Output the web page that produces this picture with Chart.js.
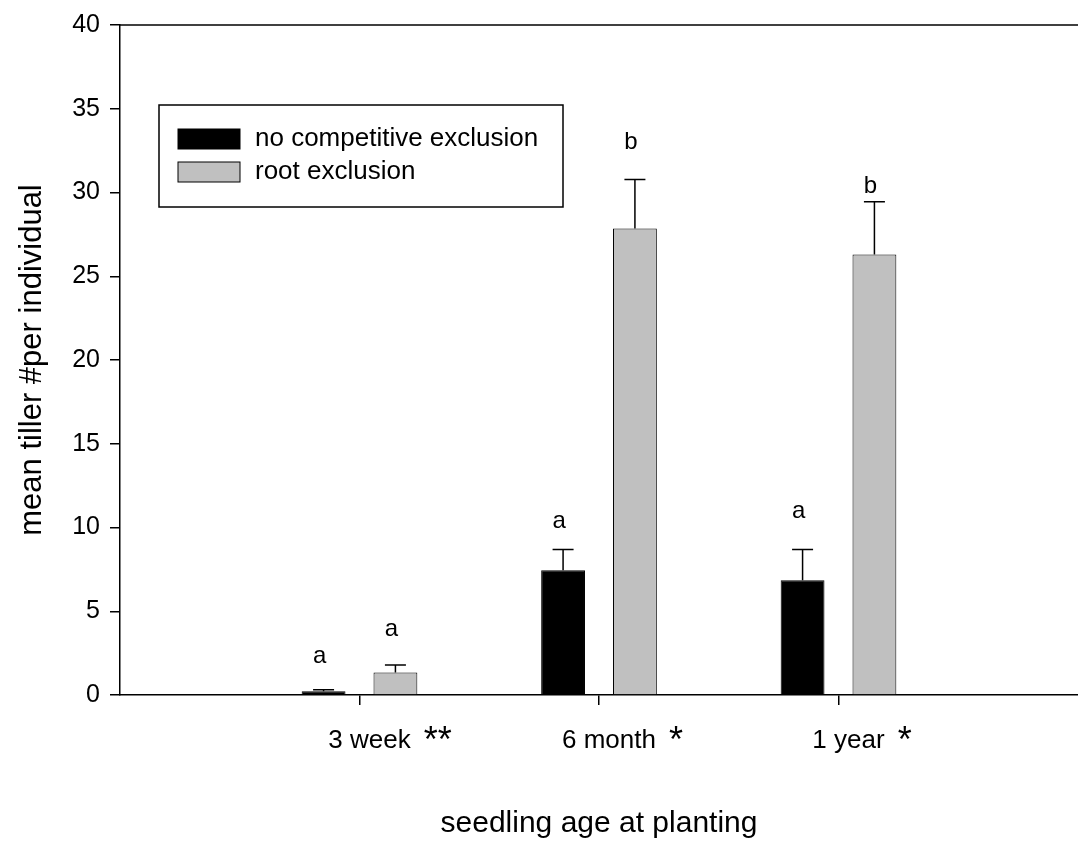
<!DOCTYPE html>
<html>
<head>
<meta charset="utf-8">
<script src="https://cdn.jsdelivr.net/npm/chart.js@4.4.0/dist/chart.umd.min.js"></script>
<style>
  html, body { margin: 0; padding: 0; background: #fff; }
</style>
</head>
<body>
<canvas id="tillerChart" width="1078" height="844"></canvas>
<script>
// seedling age groups, placed at 1, 2, 3 on the x axis
const ageLabels = ["3 week", "6 month", "1 year"];
const agePositions = [1, 2, 3];
const ageStars = ["**", "*", "*"];

// mean tiller # per individual and upper error (SE)
const noExclusion = [0.22, 7.45, 6.85];
const noExclusionErr = [0.1, 1.24, 1.84];
const rootExclusion = [1.35, 27.85, 26.3];
const rootExclusionErr = [0.44, 2.93, 3.15];

// significance letters and the height they sit at (axis units)
const noExclusionLetters = ["a", "a", "a"];
const noExclusionLetterY = [1.9, 10.0, 10.55];
const rootExclusionLetters = ["a", "b", "b"];
const rootExclusionLetterY = [3.5, 32.6, 30.0];

const yTicks = [0, 5, 10, 15, 20, 25, 30, 35, 40];

const FONT = '"Liberation Sans", Arial, Helvetica, sans-serif';
const LABEL_SHIFT = 10;

const annotations = {
    id: "annotations",
    afterDatasetsDraw(chart) {
        const { ctx, chartArea, scales: { x, y } } = chart;
        ctx.save();

        // top frame line
        ctx.strokeStyle = "#000";
        ctx.lineWidth = 1.5;
        ctx.beginPath();
        ctx.moveTo(chartArea.left, chartArea.top);
        ctx.lineTo(chartArea.right, chartArea.top);
        ctx.stroke();

        // error bars + letters
        chart.data.datasets.forEach((ds, di) => {
            const meta = chart.getDatasetMeta(di);
            meta.data.forEach((bar, i) => {
                const top = y.getPixelForValue(ds.data[i].y + ds.errors[i]);
                ctx.strokeStyle = "#000";
                ctx.lineWidth = 1.5;
                ctx.beginPath();
                ctx.moveTo(bar.x, bar.y);
                ctx.lineTo(bar.x, top);
                ctx.moveTo(bar.x - 10.5, top);
                ctx.lineTo(bar.x + 10.5, top);
                ctx.stroke();

                ctx.fillStyle = "#000";
                ctx.font = "24px " + FONT;
                ctx.textAlign = "center";
                ctx.textBaseline = "alphabetic";
                ctx.fillText(ds.letters[i], bar.x - 4, y.getPixelForValue(ds.letterY[i]));
            });
        });

        // significance stars after the age labels
        ctx.font = "26px " + FONT;
        const widths = ageLabels.map(t => ctx.measureText(t).width);
        ctx.font = "36px " + FONT;
        ctx.textAlign = "left";
        ageStars.forEach((s, i) => {
            const px = x.getPixelForValue(agePositions[i]) + LABEL_SHIFT;
            ctx.fillText(s, px + widths[i] / 2 + 13, chartArea.bottom + 57);
        });

        // legend box
        const lx = chartArea.left + 39, ly = chartArea.top + 80;
        ctx.lineWidth = 1.5;
        ctx.strokeRect(lx, ly, 404, 102);
        ctx.font = "26px " + FONT;
        ctx.textBaseline = "middle";
        chart.data.datasets.forEach((ds, di) => {
            const sy = ly + 24 + di * 33;
            ctx.fillStyle = ds.backgroundColor;
            ctx.fillRect(lx + 19, sy, 62, 20);
            ctx.lineWidth = 1;
            ctx.strokeRect(lx + 19, sy, 62, 20);
            ctx.fillStyle = "#000";
            ctx.fillText(ds.label, lx + 96, sy + 10);
        });

        ctx.restore();
    }
};

new Chart(document.getElementById("tillerChart").getContext("2d"), {
    type: "bar",
    data: {
        datasets: [{
            label: "no competitive exclusion",
            data: agePositions.map((p, i) => ({ x: p, y: noExclusion[i] })),
            errors: noExclusionErr,
            letters: noExclusionLetters,
            letterY: noExclusionLetterY,
            backgroundColor: "#000000",
            borderColor: "#000000",
            borderWidth: 1
        }, {
            label: "root exclusion",
            data: agePositions.map((p, i) => ({ x: p, y: rootExclusion[i] })),
            errors: rootExclusionErr,
            letters: rootExclusionLetters,
            letterY: rootExclusionLetterY,
            backgroundColor: "#c0c0c0",
            borderColor: "#000000",
            borderWidth: 1
        }]
    },
    options: {
        responsive: false,
        animation: false,
        devicePixelRatio: 1,
        categoryPercentage: 0.6,
        barPercentage: 0.61,
        layout: { padding: 0 },
        plugins: {
            legend: { display: false },
            tooltip: { enabled: false }
        },
        scales: {
            x: {
                type: "linear",
                offset: false,
                min: 0,
                max: 4,
                afterBuildTicks: s => { s.ticks = agePositions.map(v => ({ value: v })); },
                afterFit: s => { s.height = 149; },
                ticks: {
                    callback: (v, i) => ageLabels[i],
                    color: "#000",
                    font: { family: FONT, size: 26 },
                    padding: 20,
                    labelOffset: LABEL_SHIFT,
                    maxRotation: 0
                },
                grid: { offset: false, drawOnChartArea: false, drawTicks: true, tickLength: 10, color: "#000", lineWidth: 1.5 },
                border: { color: "#000", width: 1.5 },
                title: {
                    display: true,
                    text: "seedling age at planting",
                    color: "#000",
                    font: { family: FONT, size: 30 },
                    padding: { bottom: 2 }
                }
            },
            y: {
                min: 0,
                max: 40,
                afterBuildTicks: s => { s.ticks = yTicks.map(v => ({ value: v })); },
                afterFit: s => { s.width = 120; },
                ticks: {
                    color: "#000",
                    font: { family: FONT, size: 25 },
                    padding: 10
                },
                grid: { drawOnChartArea: false, drawTicks: true, tickLength: 10, color: "#000", lineWidth: 1.5 },
                border: { color: "#000", width: 1.5 },
                title: {
                    display: true,
                    text: "mean tiller #per individual",
                    color: "#000",
                    font: { family: FONT, size: 31 },
                    padding: { top: 14 }
                }
            }
        }
    },
    plugins: [annotations]
});
</script>
</body>
</html>
